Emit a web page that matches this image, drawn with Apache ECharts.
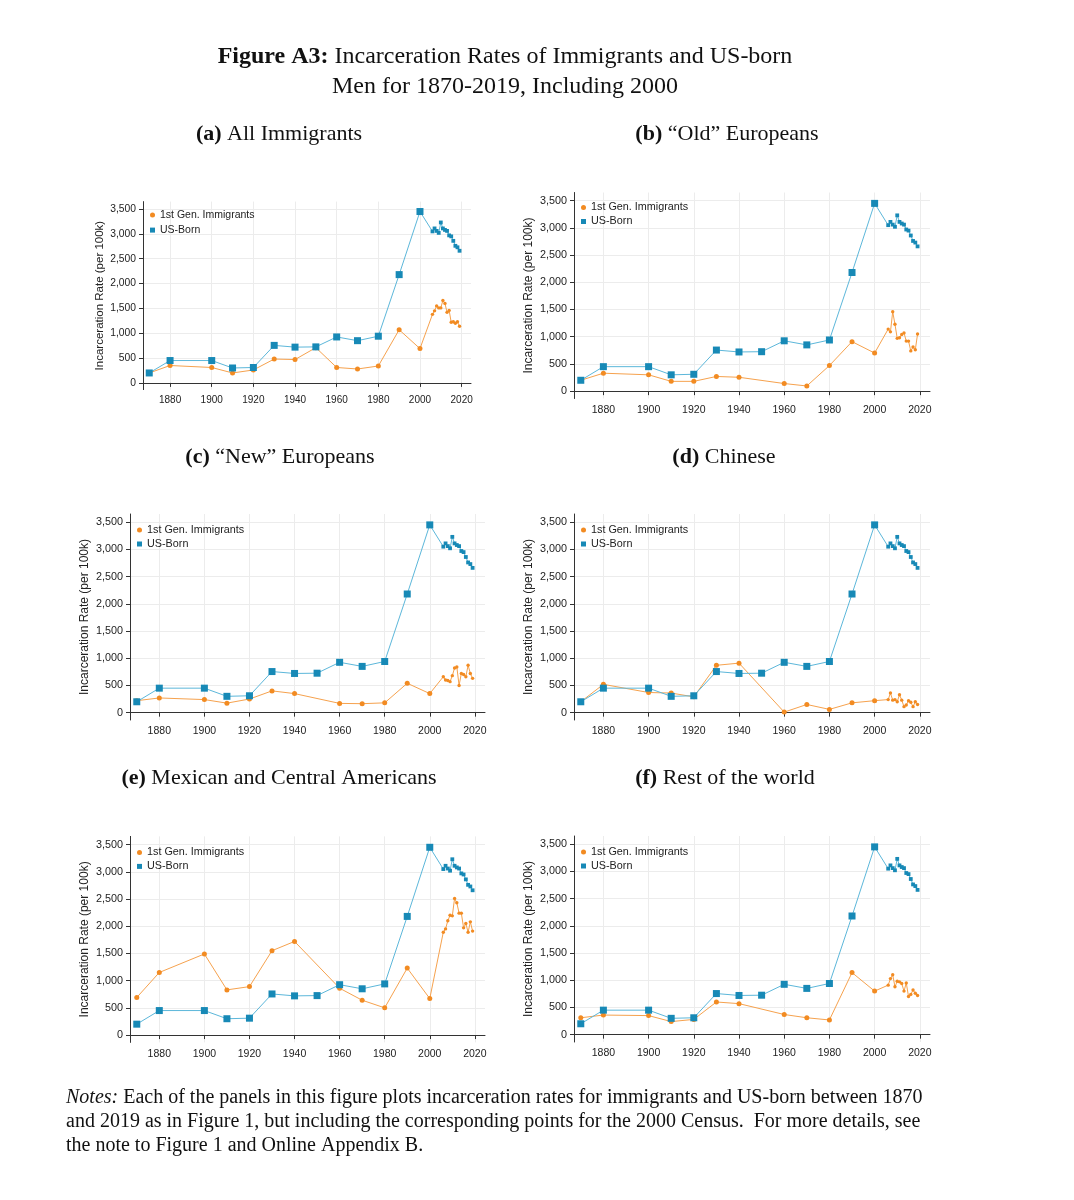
<!DOCTYPE html>
<html><head><meta charset="utf-8">
<script src="https://cdn.jsdelivr.net/npm/echarts@6/dist/echarts.min.js"></script>
<style>html,body{margin:0;padding:0;background:#fff}#c{width:1074px;height:1200px}</style>
</head><body><div id="c"></div>
<script>
const years = [1870,1880,1900,1910,1920,1930,1940,1950,1960,1970,1980,1990,2000,2006,2007,2008,2009,2010,2011,2012,2013,2014,2015,2016,2017,2018,2019];
const usBorn = [200,450,450,300,310,755,720,725,925,850,940,2180,3450,3050,3110,3060,3020,3230,3110,3080,3060,2970,2950,2860,2760,2730,2660];
const immAll = [200,350,310,200,260,480,470,710,310,280,340,1070,690,1380,1450,1550,1510,1510,1660,1600,1420,1460,1220,1230,1200,1230,1140];
const immOldEur = [200,330,300,180,180,270,255,null,140,95,470,910,700,1140,1090,1460,1230,970,980,1040,1070,920,920,740,810,760,1050];
const immNewEur = [220,270,240,175,250,400,350,null,170,165,180,540,350,660,600,590,570,680,820,840,500,720,700,660,870,720,630];
const immChinese = [200,520,370,360,290,870,910,null,10,150,60,180,220,240,360,230,240,200,330,230,110,140,220,190,110,200,150];
const immMexCA = [690,1150,1490,830,890,1550,1720,null,860,640,500,1230,670,1890,1950,2100,2200,2190,2510,2430,2240,2240,1970,2050,1890,2080,1910];
const immRest = [310,360,350,240,280,600,570,null,370,310,270,1140,800,910,1030,1100,880,980,970,940,800,950,700,740,820,760,720];
const xTicks = [1880,1900,1920,1940,1960,1980,2000,2020];
const yTicks = [0,500,1000,1500,2000,2500,3000,3500];
const panelTitles = [['(a)','All Immigrants'],['(b)','\u201cOld\u201d Europeans'],['(c)','\u201cNew\u201d Europeans'],['(d)','Chinese'],['(e)','Mexican and Central Americans'],['(f)','Rest of the world']];
const immSeries = [immAll, immOldEur, immNewEur, immChinese, immMexCA, immRest];
const serName = ['1st Gen. Immigrants','US-Born'];

const grids = [
  {left:143, top:201.6, width:328, height:188},
  {left:574, top:192.5, width:356, height:206},
  {left:130, top:514, width:355, height:206},
  {left:574, top:514, width:356, height:206},
  {left:130, top:836.4, width:355, height:206},
  {left:574, top:836, width:356, height:206}
];
const titlePos = [{x:274,y:118},{x:722,y:118},{x:275,y:441},{x:719,y:441},{x:274,y:762},{x:720,y:762}];
const legendTop = [8, 9.5, 10.5, 10.5, 10.5, 10.5];

const ORANGE_M = '#f28b22', ORANGE_L = '#f6a24e';
const BLUE_M = '#1789b6', BLUE_L = '#5cb7da';
const FONT = 'Liberation Sans, Arial, sans-serif';
const SERIF = 'Liberation Serif, Times New Roman, serif';

const pairs = arr => years.map((y,i)=>[y, arr[i]]);
const fmt = v => v.toLocaleString('en-US');

const option = {
  animation:false,
  backgroundColor:'#fff',
  title: [
    {text:'{b|Figure A3:} Incarceration Rates of Immigrants and US-born\nMen for 1870-2019, Including 2000',
     left:500, top:37, textAlign:'center',
     textStyle:{fontFamily:SERIF, fontSize:24, fontWeight:'normal', color:'#111', lineHeight:30, align:'center',
       rich:{b:{fontFamily:SERIF, fontSize:24, fontWeight:'bold', color:'#111'}}}}
  ],
  grid: grids.map(g=>Object.assign({containLabel:false}, g)),
  xAxis: [], yAxis: [], legend: [], series: [],
  graphic: []
};

panelTitles.forEach((t,i)=>{
  option.title.push({
    text:'{b|'+t[0]+'} '+t[1],
    left: titlePos[i].x, top: titlePos[i].y, textAlign:'center',
    textStyle:{fontFamily:SERIF, fontSize:22, fontWeight:'normal', color:'#111',
      rich:{b:{fontFamily:SERIF, fontSize:22, fontWeight:'bold', color:'#111'}}}
  });
  const small = i===0;
  option.xAxis.push({
    type:'value', gridIndex:i, min:1867, max:2024.5,
    axisLine:{show:true, lineStyle:{color:'#333', width:1}},
    axisTick:{show:true, length:4, customValues:xTicks, lineStyle:{color:'#333'}},
    axisLabel:{customValues:xTicks, formatter:v=>String(v), fontFamily:FONT, fontSize:small?10:10.5, color:'#222', margin:6},
    splitLine:{show:true, lineStyle:{color:'#ececec', width:1}}
  });
  option.yAxis.push({
    type:'value', gridIndex:i, min:-135, max:3650,
    name:'Incarceration Rate (per 100k)', nameLocation:'middle', nameGap: small?37:39,
    nameTextStyle:{fontFamily:FONT, fontSize:small?11.5:12, color:'#222'},
    axisLine:{show:true, lineStyle:{color:'#333', width:1}},
    axisTick:{show:true, length:4, customValues:yTicks, lineStyle:{color:'#333'}},
    axisLabel:{customValues:yTicks, formatter:fmt, fontFamily:FONT, fontSize:small?10.3:10.8, color:'#222', margin:7},
    splitLine:{show:true, lineStyle:{color:'#ececec', width:1}}
  });
  const g = grids[i];
  option.legend.push({
    orient:'vertical', left:g.left+7, top:g.top+legendTop[i], itemWidth:5, itemHeight:5, itemGap:small?4:3, padding:0,
    textStyle:{fontFamily:FONT, fontSize:small?10.5:10.8, color:'#222'},
    selectedMode:false,
    data:[{name:serName[0], icon:'circle'},{name:serName[1], icon:'rect'}]
  });
  option.series.push({
    name:serName[0], type:'line', xAxisIndex:i, yAxisIndex:i,
    data:pairs(immSeries[i]), connectNulls:true,
    symbol:'circle', symbolSize:(v)=> v[0] <= 2000 ? 5 : 3.4,
    lineStyle:{color:ORANGE_L, width:1}, itemStyle:{color:ORANGE_M}, z:3
  });
  option.series.push({
    name:serName[1], type:'line', xAxisIndex:i, yAxisIndex:i,
    data:pairs(usBorn), connectNulls:true,
    symbol:'rect', symbolSize:(v)=> v[0] <= 2000 ? 7 : 3.8,
    lineStyle:{color:BLUE_L, width:1}, itemStyle:{color:BLUE_M}, z:4
  });
});

option.graphic.push({
  type:'text', left:66, top:1086,
  style:{
    text:'{i|Notes:} Each of the panels in this figure plots incarceration rates for immigrants and US-born between 1870\nand 2019 as in Figure 1, but including the corresponding points for the 2000 Census.  For more details, see\nthe note to Figure 1 and Online Appendix B.',
    font:'20px '+SERIF, fill:'#111', lineHeight:24,
    rich:{i:{fontStyle:'italic', fontFamily:SERIF, fontSize:20, fill:'#111', lineHeight:24}}
  }
});

const chart = echarts.init(document.getElementById('c'), null, {renderer:'canvas', width:1074, height:1200});
chart.setOption(option);
</script></body></html>
